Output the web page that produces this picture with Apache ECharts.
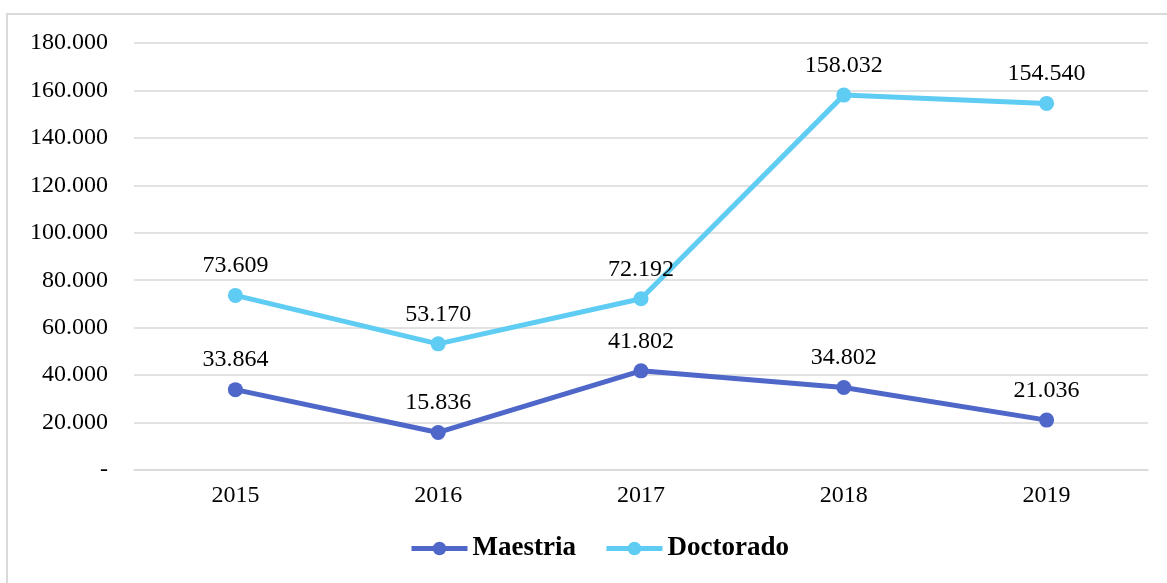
<!DOCTYPE html>
<html>
<head>
<meta charset="utf-8">
<script src="https://cdn.jsdelivr.net/npm/echarts@6/dist/echarts.min.js"></script>
<style>
html,body{margin:0;padding:0;background:#fff;}
#c{width:1167px;height:583px;}
</style>
</head>
<body>
<div id="c"></div>
<script>
const categories = ['2015', '2016', '2017', '2018', '2019'];
const maestria = [33864, 15836, 41802, 34802, 21036];
const doctorado = [73609, 53170, 72192, 158032, 154540];
const seriesNames = ['Maestria', 'Doctorado'];

function fmt(v) {
  if (v === 0) return '-';
  return Math.round(v).toString().replace(/\B(?=(\d{3})+(?!\d))/g, '.');
}
const FONT = '"Liberation Serif", "Times New Roman", serif';

const chart = echarts.init(document.getElementById('c'), null, {renderer: 'canvas'});
chart.setOption({
  animation: false,
  backgroundColor: '#fff',
  textStyle: {fontFamily: FONT},
  graphic: [{
    type: 'rect',
    shape: {x: 7, y: 14, width: 1200, height: 620},
    style: {fill: 'none', stroke: '#d9d9d9', lineWidth: 2},
    silent: true, z: -10
  }],
  grid: {left: 134, right: 19, top: 43, bottom: 113, containLabel: false},
  legend: {
    data: seriesNames,
    bottom: 16,
    left: 404,
    itemWidth: 56,
    itemHeight: 17,
    itemGap: 28,
    lineStyle: {width: 5},
    textStyle: {fontFamily: FONT, fontSize: 27, fontWeight: 'bold', color: '#000'}
  },
  xAxis: {
    type: 'category',
    data: categories,
    boundaryGap: true,
    axisLine: {lineStyle: {color: '#d9d9d9', width: 1.5}},
    axisTick: {show: false},
    axisLabel: {fontFamily: FONT, fontSize: 24, color: '#000', margin: 14}
  },
  yAxis: {
    type: 'value',
    min: 0, max: 180000, interval: 20000,
    axisLine: {show: false},
    axisTick: {show: false},
    splitLine: {lineStyle: {color: '#d9d9d9', width: 1.5}},
    axisLabel: {fontFamily: FONT, fontSize: 24, color: '#000', margin: 26, formatter: fmt}
  },
  series: [
    {
      name: seriesNames[0], type: 'line', data: maestria,
      symbol: 'circle', symbolSize: 15,
      lineStyle: {width: 5, color: '#4E67C8'},
      itemStyle: {color: '#4E67C8'},
      label: {show: true, position: 'top', distance: 10, fontFamily: FONT, fontSize: 24, color: '#000',
        formatter: p => fmt(p.value)}
    },
    {
      name: seriesNames[1], type: 'line', data: doctorado,
      symbol: 'circle', symbolSize: 15,
      lineStyle: {width: 5, color: '#5ECCF3'},
      itemStyle: {color: '#5ECCF3'},
      label: {show: true, position: 'top', distance: 10, fontFamily: FONT, fontSize: 24, color: '#000',
        formatter: p => fmt(p.value)}
    }
  ]
});
</script>
</body>
</html>
